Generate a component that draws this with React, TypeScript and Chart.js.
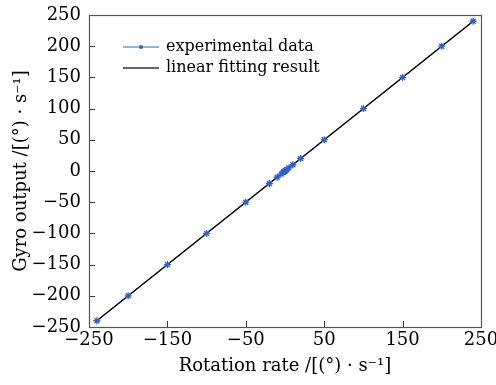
import { useEffect, useRef } from 'react';
import { Chart, registerables } from 'chart.js';

Chart.register(...registerables);

const rotationRate = [-240, -200, -150, -100, -50, -20, -10, -5, -2, -1, 0, 1, 2, 5, 10, 20, 50, 100, 150, 200, 240];
const gyroOutput = [-240, -200, -150, -100, -50, -20, -10, -5, -2, -1, 0, 1, 2, 5, 10, 20, 50, 100, 150, 200, 240];
const fitX = [-240, 240];
const fitY = [-240, 240];
const xTickValues = [-250, -150, -50, 50, 150, 250];
const yTickValues = [-250, -200, -150, -100, -50, 0, 50, 100, 150, 200, 250];
const legendLabels = ['experimental data', 'linear fitting result'];
const xTitle = 'Rotation rate /[(°) · s⁻¹]';
const yTitle = 'Gyro output /[(°) · s⁻¹]';

const FONT_FAMILY = '"DejaVu Serif", serif';
const TICK_SIZE = 18;
const TITLE_SIZE = 18;
const LEGEND_SIZE = 16;
const BLUE = '#2f62c4';
const BLACK = '#000000';

const fmt = (v: number | string) => {
  const n = Number(v);
  return n < 0 ? '\u2212' + Math.abs(n) : String(n);
};

const framePlugin = {
  id: 'frame',
  afterDatasetsDraw(chart: any) {
    const { ctx, chartArea, scales } = chart;
    const { left, right, top, bottom } = chartArea;
    ctx.save();
    ctx.strokeStyle = '#333';
    ctx.lineWidth = 1;
    ctx.beginPath();
    const xs = scales.x;
    xs.ticks.forEach((t: any) => {
      if (t.value <= xs.min || t.value >= xs.max) return;
      const px = Math.round(xs.getPixelForValue(t.value)) + 0.5;
      ctx.moveTo(px, bottom);
      ctx.lineTo(px, bottom - 6);
    });
    const ys = scales.y;
    ys.ticks.forEach((t: any) => {
      if (t.value <= ys.min || t.value >= ys.max) return;
      const py = Math.round(ys.getPixelForValue(t.value)) + 0.5;
      ctx.moveTo(left, py);
      ctx.lineTo(left + 6, py);
    });
    ctx.stroke();
    ctx.strokeStyle = '#555';
    ctx.lineWidth = 1.2;
    ctx.strokeRect(Math.round(left) + 0.5, Math.round(top) + 0.5, Math.round(right - left), Math.round(bottom - top));

    const lx0 = left + 34;
    const lx1 = left + 70;
    const rows = [top + 32, top + 53];
    ctx.font = `${LEGEND_SIZE}px ${FONT_FAMILY}`;
    ctx.textBaseline = 'middle';
    ctx.fillStyle = '#000';
    ctx.strokeStyle = BLUE;
    ctx.lineWidth = 1.2;
    ctx.beginPath();
    ctx.moveTo(lx0, rows[0]);
    ctx.lineTo(lx1, rows[0]);
    ctx.stroke();
    ctx.fillStyle = BLUE;
    ctx.beginPath();
    ctx.arc((lx0 + lx1) / 2, rows[0], 2, 0, Math.PI * 2);
    ctx.fill();
    ctx.fillStyle = '#000';
    ctx.fillText(legendLabels[0], lx1 + 7, rows[0]);
    ctx.strokeStyle = '#333';
    ctx.lineWidth = 1.5;
    ctx.beginPath();
    ctx.moveTo(lx0, rows[1]);
    ctx.lineTo(lx1, rows[1]);
    ctx.stroke();
    ctx.fillText(legendLabels[1], lx1 + 7, rows[1]);
    ctx.restore();
  },
};

export default function App() {
  const ref = useRef<HTMLCanvasElement | null>(null);
  useEffect(() => {
    if (!ref.current) return;
    const tickFont = { family: FONT_FAMILY, size: TICK_SIZE };
    const titleFont = { family: FONT_FAMILY, size: TITLE_SIZE };
    const chart = new Chart(ref.current, {
      type: 'scatter',
      data: {
        datasets: [
          {
            label: legendLabels[0] + ' line',
            data: rotationRate.map((x, i) => ({ x, y: gyroOutput[i] })),
            showLine: true,
            borderColor: BLUE,
            borderWidth: 1,
            pointRadius: 0,
            order: 3,
          },
          {
            label: legendLabels[1],
            data: fitX.map((x, i) => ({ x, y: fitY[i] })),
            showLine: true,
            borderColor: BLACK,
            borderWidth: 1.5,
            pointRadius: 0,
            order: 2,
          },
          {
            label: legendLabels[0],
            data: rotationRate.map((x, i) => ({ x, y: gyroOutput[i] })),
            showLine: false,
            pointStyle: 'star',
            pointRadius: 3.5,
            borderColor: BLUE,
            backgroundColor: BLUE,
            pointBorderWidth: 1.3,
            order: 1,
          },
        ],
      },
      options: {
        responsive: false,
        animation: false,
        layout: { padding: { top: 15, right: 15, left: 0, bottom: 0 } },
        plugins: { legend: { display: false }, tooltip: { enabled: false } },
        scales: {
          x: {
            type: 'linear',
            min: -250,
            max: 250,
            afterBuildTicks: (s: any) => {
              s.ticks = xTickValues.map((value) => ({ value }));
            },
            afterFit: (s: any) => {
              s.height = 58;
              s.paddingLeft = 0;
              s.paddingRight = 0;
            },
            grid: { display: false, drawTicks: false },
            border: { display: false },
            ticks: { font: tickFont, color: '#000', padding: 3, maxRotation: 0, autoSkip: false, callback: fmt },
            title: { display: true, text: xTitle, font: titleFont, color: '#000', padding: { top: 0, bottom: 8 } },
          },
          y: {
            type: 'linear',
            min: -250,
            max: 250,
            afterBuildTicks: (s: any) => {
              s.ticks = yTickValues.map((value) => ({ value }));
            },
            afterFit: (s: any) => {
              s.width = 89;
              s.paddingTop = 0;
              s.paddingBottom = 0;
            },
            grid: { display: false, drawTicks: false },
            border: { display: false },
            ticks: { font: tickFont, color: '#000', padding: 8, autoSkip: false, callback: fmt },
            title: { display: true, text: yTitle, font: titleFont, color: '#000', padding: { top: 11, bottom: 0 } },
          },
        },
      },
      plugins: [framePlugin],
    } as any);
    return () => chart.destroy();
  }, []);
  return (
    <div style={{ position: 'absolute', left: 0, top: 0, width: 496, height: 385 }}>
      <canvas ref={ref} width={496} height={385} />
    </div>
  );
}
